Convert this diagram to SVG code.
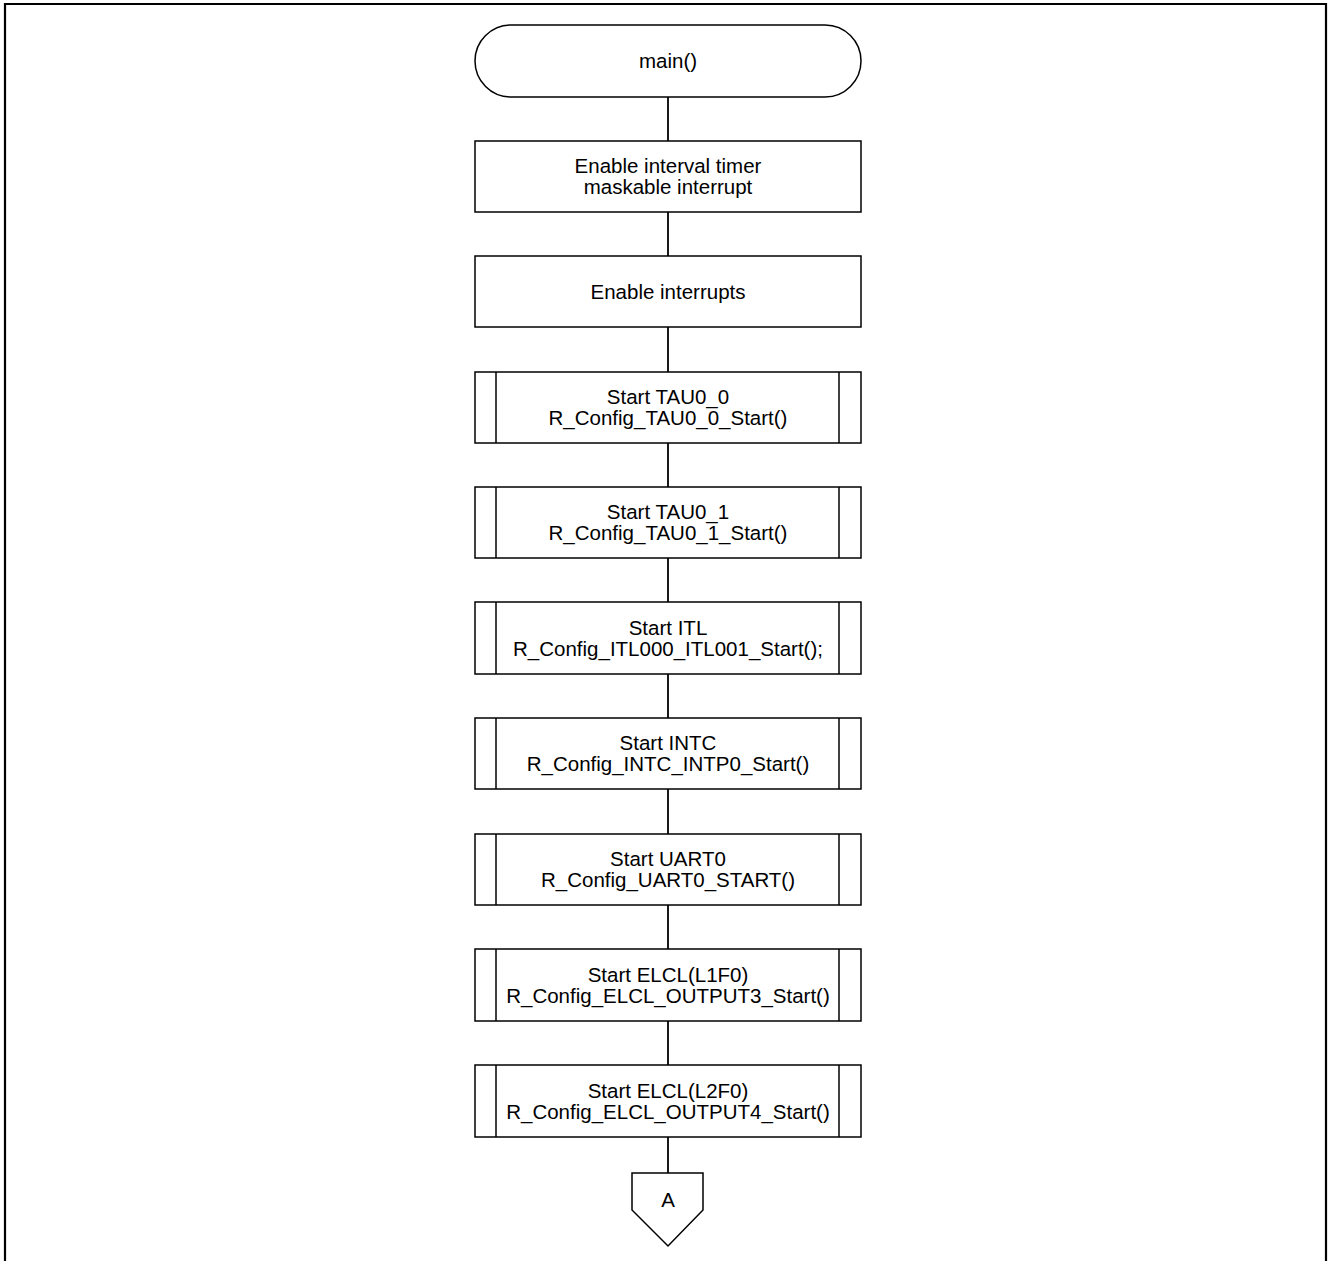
<svg xmlns="http://www.w3.org/2000/svg" width="1328" height="1261" viewBox="0 0 1328 1261">
  <style>
    .shape { fill: #ffffff; stroke: #000000; stroke-width: 1.5; }
    .bar { stroke: #000000; stroke-width: 1.5; fill: none; }
    .wire { stroke: #000000; stroke-width: 1.8; fill: none; }
    .label { font-family: "Liberation Sans", Arial, sans-serif; font-size: 20.5px; fill: #000000; text-anchor: middle; }
  </style>
  <rect width="1328" height="1261" fill="#ffffff"/>
  <!-- outer frame -->
  <path d="M5,1261 V4 H1326 V1261" fill="none" stroke="#000000" stroke-width="2.2"/>

  <g id="connectors">
    <line class="wire" x1="668" y1="97" x2="668" y2="141"/>
    <line class="wire" x1="668" y1="212" x2="668" y2="256"/>
    <line class="wire" x1="668" y1="327" x2="668" y2="372"/>
    <line class="wire" x1="668" y1="443" x2="668" y2="487"/>
    <line class="wire" x1="668" y1="558" x2="668" y2="602"/>
    <line class="wire" x1="668" y1="674" x2="668" y2="718"/>
    <line class="wire" x1="668" y1="789" x2="668" y2="834"/>
    <line class="wire" x1="668" y1="905" x2="668" y2="949"/>
    <line class="wire" x1="668" y1="1021" x2="668" y2="1065"/>
    <line class="wire" x1="668" y1="1137" x2="668" y2="1173"/>
  </g>

  <g id="start">
    <rect class="shape" x="475" y="25" width="386" height="72" rx="36" ry="36"/>
    <text class="label" x="668" y="68">main()</text>
  </g>

  <g id="enable-itl-interrupt">
    <rect class="shape" x="475" y="141" width="386" height="71"/>
    <text class="label" x="668" y="172.5">Enable interval timer</text>
    <text class="label" x="668" y="194">maskable interrupt</text>
  </g>

  <g id="enable-interrupts">
    <rect class="shape" x="475" y="256" width="386" height="71"/>
    <text class="label" x="668" y="299">Enable interrupts</text>
  </g>

  <g id="start-tau0-0">
    <rect class="shape" x="475" y="372" width="386" height="71"/>
    <line class="bar" x1="496" y1="372" x2="496" y2="443"/>
    <line class="bar" x1="839" y1="372" x2="839" y2="443"/>
    <text class="label" x="668" y="404">Start TAU0_0</text>
    <text class="label" x="668" y="425">R_Config_TAU0_0_Start()</text>
  </g>

  <g id="start-tau0-1">
    <rect class="shape" x="475" y="487" width="386" height="71"/>
    <line class="bar" x1="496" y1="487" x2="496" y2="558"/>
    <line class="bar" x1="839" y1="487" x2="839" y2="558"/>
    <text class="label" x="668" y="519">Start TAU0_1</text>
    <text class="label" x="668" y="540">R_Config_TAU0_1_Start()</text>
  </g>

  <g id="start-itl">
    <rect class="shape" x="475" y="602" width="386" height="72"/>
    <line class="bar" x1="496" y1="602" x2="496" y2="674"/>
    <line class="bar" x1="839" y1="602" x2="839" y2="674"/>
    <text class="label" x="668" y="634.5">Start ITL</text>
    <text class="label" x="668" y="655.5">R_Config_ITL000_ITL001_Start();</text>
  </g>

  <g id="start-intc">
    <rect class="shape" x="475" y="718" width="386" height="71"/>
    <line class="bar" x1="496" y1="718" x2="496" y2="789"/>
    <line class="bar" x1="839" y1="718" x2="839" y2="789"/>
    <text class="label" x="668" y="750">Start INTC</text>
    <text class="label" x="668" y="771">R_Config_INTC_INTP0_Start()</text>
  </g>

  <g id="start-uart0">
    <rect class="shape" x="475" y="834" width="386" height="71"/>
    <line class="bar" x1="496" y1="834" x2="496" y2="905"/>
    <line class="bar" x1="839" y1="834" x2="839" y2="905"/>
    <text class="label" x="668" y="866">Start UART0</text>
    <text class="label" x="668" y="887">R_Config_UART0_START()</text>
  </g>

  <g id="start-elcl-l1f0">
    <rect class="shape" x="475" y="949" width="386" height="72"/>
    <line class="bar" x1="496" y1="949" x2="496" y2="1021"/>
    <line class="bar" x1="839" y1="949" x2="839" y2="1021"/>
    <text class="label" x="668" y="982">Start ELCL(L1F0)</text>
    <text class="label" x="668" y="1003">R_Config_ELCL_OUTPUT3_Start()</text>
  </g>

  <g id="start-elcl-l2f0">
    <rect class="shape" x="475" y="1065" width="386" height="72"/>
    <line class="bar" x1="496" y1="1065" x2="496" y2="1137"/>
    <line class="bar" x1="839" y1="1065" x2="839" y2="1137"/>
    <text class="label" x="668" y="1098">Start ELCL(L2F0)</text>
    <text class="label" x="668" y="1119">R_Config_ELCL_OUTPUT4_Start()</text>
  </g>

  <g id="offpage-a">
    <path class="shape" d="M632,1173 H703 V1210 L668,1246 L632,1210 Z"/>
    <text class="label" x="668" y="1207">A</text>
  </g>
</svg>
